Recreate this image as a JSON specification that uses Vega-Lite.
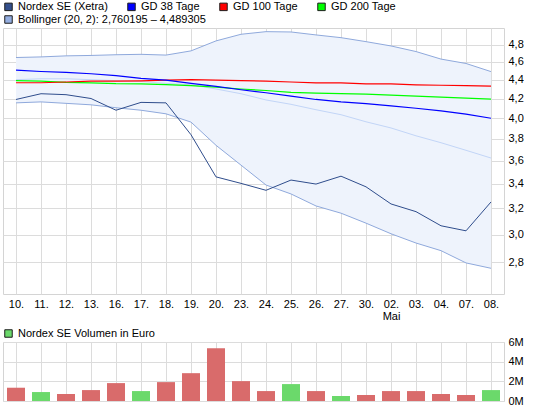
{
  "$schema": "https://vega.github.io/schema/vega-lite/v6.json",
  "padding": {"left": 2, "top": 0, "right": 0, "bottom": 0},
  "datasets": {
    "kurs": [
      {"d": "10.", "price": 4.19, "gd38": 4.505, "gd100": 4.367, "gd200": 4.39, "bu": 4.648, "bm": 4.4, "bl": 4.155, "vol": 1.35, "dir": "down"},
      {"d": "11.", "price": 4.25, "gd38": 4.49, "gd100": 4.367, "gd200": 4.385, "bu": 4.655, "bm": 4.41, "bl": 4.165, "vol": 0.91, "dir": "up"},
      {"d": "12.", "price": 4.24, "gd38": 4.48, "gd100": 4.375, "gd200": 4.37, "bu": 4.667, "bm": 4.41, "bl": 4.15, "vol": 0.71, "dir": "down"},
      {"d": "13.", "price": 4.2, "gd38": 4.465, "gd100": 4.385, "gd200": 4.365, "bu": 4.672, "bm": 4.4, "bl": 4.135, "vol": 1.11, "dir": "down"},
      {"d": "16.", "price": 4.08, "gd38": 4.445, "gd100": 4.385, "gd200": 4.357, "bu": 4.68, "bm": 4.39, "bl": 4.105, "vol": 1.82, "dir": "down"},
      {"d": "17.", "price": 4.16, "gd38": 4.415, "gd100": 4.388, "gd200": 4.355, "bu": 4.685, "bm": 4.38, "bl": 4.08, "vol": 1.01, "dir": "up"},
      {"d": "18.", "price": 4.155, "gd38": 4.395, "gd100": 4.395, "gd200": 4.346, "bu": 4.676, "bm": 4.36, "bl": 4.044, "vol": 1.92, "dir": "down"},
      {"d": "19.", "price": 3.84, "gd38": 4.36, "gd100": 4.4, "gd200": 4.335, "bu": 4.725, "bm": 4.345, "bl": 3.962, "vol": 2.83, "dir": "down"},
      {"d": "20.", "price": 3.46, "gd38": 4.327, "gd100": 4.395, "gd200": 4.32, "bu": 4.843, "bm": 4.3, "bl": 3.741, "vol": 5.36, "dir": "down"},
      {"d": "23.", "price": 3.405, "gd38": 4.292, "gd100": 4.39, "gd200": 4.3, "bu": 4.923, "bm": 4.25, "bl": 3.562, "vol": 2.02, "dir": "down"},
      {"d": "24.", "price": 3.347, "gd38": 4.26, "gd100": 4.385, "gd200": 4.284, "bu": 4.955, "bm": 4.185, "bl": 3.391, "vol": 1.01, "dir": "down"},
      {"d": "25.", "price": 3.433, "gd38": 4.225, "gd100": 4.375, "gd200": 4.265, "bu": 4.951, "bm": 4.14, "bl": 3.317, "vol": 1.72, "dir": "up"},
      {"d": "26.", "price": 3.399, "gd38": 4.19, "gd100": 4.365, "gd200": 4.257, "bu": 4.915, "bm": 4.085, "bl": 3.22, "vol": 1.01, "dir": "down"},
      {"d": "27.", "price": 3.466, "gd38": 4.165, "gd100": 4.365, "gd200": 4.25, "bu": 4.882, "bm": 4.035, "bl": 3.163, "vol": 0.51, "dir": "up"},
      {"d": "30.", "price": 3.376, "gd38": 4.147, "gd100": 4.355, "gd200": 4.245, "bu": 4.834, "bm": 3.965, "bl": 3.086, "vol": 0.61, "dir": "down"},
      {"d": "02.", "price": 3.236, "gd38": 4.125, "gd100": 4.355, "gd200": 4.235, "bu": 4.783, "bm": 3.905, "bl": 3.006, "vol": 1.01, "dir": "down"},
      {"d": "03.", "price": 3.175, "gd38": 4.1, "gd100": 4.345, "gd200": 4.225, "bu": 4.717, "bm": 3.83, "bl": 2.938, "vol": 1.01, "dir": "down"},
      {"d": "04.", "price": 3.066, "gd38": 4.073, "gd100": 4.34, "gd200": 4.215, "bu": 4.63, "bm": 3.765, "bl": 2.883, "vol": 0.71, "dir": "down"},
      {"d": "07.", "price": 3.028, "gd38": 4.04, "gd100": 4.335, "gd200": 4.205, "bu": 4.58, "bm": 3.695, "bl": 2.797, "vol": 0.61, "dir": "down"},
      {"d": "08.", "price": 3.252, "gd38": 4.0, "gd100": 4.33, "gd200": 4.194, "bu": 4.489, "bm": 3.625, "bl": 2.76, "vol": 1.11, "dir": "up"}
    ]
  },
  "spacing": 5,
  "resolve": {
    "scale": {"color": "independent", "fill": "independent"},
    "legend": {"color": "independent", "fill": "independent"}
  },
  "vconcat": [
    {
      "width": 501,
      "height": 266,
      "data": {"name": "kurs"},
      "encoding": {
        "x": {
          "field": "d",
          "type": "ordinal",
          "sort": null,
          "scale": {"type": "point", "padding": 0.52},
          "axis": {
            "title": null,
            "labelAngle": 0,
            "ticks": false,
            "domain": false,
            "grid": true,
            "labelPadding": 4,
            "labelLineHeight": 12,
            "labelExpr": "datum.value == '02.' ? ['02.', 'Mai'] : datum.value"
          }
        }
      },
      "layer": [
        {
          "mark": {"type": "area", "color": "#eef3fc"},
          "encoding": {
            "y": {
              "field": "bl",
              "type": "quantitative",
              "title": null,
              "scale": {"type": "log", "domain": [2.59, 5.0], "nice": false, "zero": false},
              "axis": {
                "orient": "right",
                "values": [2.8, 3.0, 3.2, 3.4, 3.6, 3.8, 4.0, 4.2, 4.4, 4.6, 4.8],
                "labelExpr": "replace(format(datum.value, '.1f'), '.', ',')",
                "ticks": false,
                "domain": false,
                "labelPadding": 4,
                "grid": true
              }
            },
            "y2": {"field": "bu"}
          }
        },
        {"mark": {"type": "line", "color": "#8fa9dc", "strokeWidth": 1}, "encoding": {"y": {"field": "bl", "type": "quantitative", "title": null}}},
        {"mark": {"type": "line", "color": "#8fa9dc", "strokeWidth": 1}, "encoding": {"y": {"field": "bu", "type": "quantitative", "title": null}}},
        {"mark": {"type": "line", "color": "#c2d5f7", "strokeWidth": 1}, "encoding": {"y": {"field": "bm", "type": "quantitative", "title": null}}},
        {"mark": {"type": "line", "color": "#00ff00", "strokeWidth": 1.2}, "encoding": {"y": {"field": "gd200", "type": "quantitative", "title": null}}},
        {"mark": {"type": "line", "color": "#ff0000", "strokeWidth": 1.2}, "encoding": {"y": {"field": "gd100", "type": "quantitative", "title": null}}},
        {"mark": {"type": "line", "color": "#0000ff", "strokeWidth": 1.2}, "encoding": {"y": {"field": "gd38", "type": "quantitative", "title": null}}},
        {"mark": {"type": "line", "color": "#2f4d8c", "strokeWidth": 1}, "encoding": {"y": {"field": "price", "type": "quantitative", "title": null}}},
        {
          "transform": [{"filter": "false"}],
          "mark": {"type": "square", "stroke": "#1e1e1e", "strokeWidth": 1, "opacity": 1},
          "encoding": {
            "color": {
              "field": "serie",
              "type": "nominal",
              "scale": {
                "domain": ["Nordex SE (Xetra)", "GD 38 Tage", "GD 100 Tage", "GD 200 Tage"],
                "range": ["#34508c", "#0000ff", "#ff0000", "#00ff00"]
              },
              "legend": {
                "title": null,
                "orient": "none",
                "legendX": 0,
                "legendY": -27,
                "direction": "horizontal",
                "columnPadding": 17,
                "symbolType": "square",
                "symbolSize": 56,
                "symbolStrokeColor": "#1e1e1e",
                "symbolStrokeWidth": 1,
                "symbolOpacity": 1,
                "labelOffset": 4
              }
            }
          }
        },
        {
          "transform": [{"filter": "false"}],
          "mark": {"type": "square", "stroke": "#1e1e1e", "strokeWidth": 1, "opacity": 1},
          "encoding": {
            "fill": {
              "datum": "Bollinger (20, 2): 2,760195 – 4,489305",
              "scale": {"domain": ["Bollinger (20, 2): 2,760195 – 4,489305"], "range": ["#94aee0"]},
              "legend": {
                "title": null,
                "orient": "none",
                "legendX": 0,
                "legendY": -14,
                "symbolType": "square",
                "symbolSize": 56,
                "symbolStrokeColor": "#1e1e1e",
                "symbolStrokeWidth": 1,
                "symbolOpacity": 1,
                "labelOffset": 4
              }
            }
          }
        }
      ]
    },
    {
      "width": 501,
      "height": 59,
      "data": {"name": "kurs"},
      "encoding": {
        "x": {
          "field": "d",
          "type": "ordinal",
          "sort": null,
          "scale": {"type": "point", "padding": 0.52},
          "axis": {"title": null, "labels": false, "ticks": false, "domain": false, "grid": true}
        }
      },
      "layer": [
        {
          "mark": {"type": "bar", "size": 18},
          "encoding": {
            "y": {
              "field": "vol",
              "type": "quantitative",
              "title": null,
              "scale": {"domain": [0, 6], "nice": false},
              "axis": {"orient": "right", "values": [0, 2, 4, 6], "labelExpr": "datum.value + 'M'", "ticks": false, "domain": false, "labelPadding": 4}
            },
            "fill": {
              "field": "dir",
              "type": "nominal",
              "scale": {"domain": ["down", "up"], "range": ["#d96b6b", "#6bd96b"]},
              "legend": null
            }
          }
        },
        {
          "transform": [{"filter": "false"}],
          "mark": {"type": "square", "stroke": "#1e1e1e", "strokeWidth": 1, "opacity": 1},
          "encoding": {
            "color": {
              "datum": "Nordex SE Volumen in Euro",
              "scale": {"domain": ["Nordex SE Volumen in Euro"], "range": ["#6bd96b"]},
              "legend": {
                "title": null,
                "orient": "none",
                "legendX": 0,
                "legendY": -14,
                "symbolType": "square",
                "symbolSize": 56,
                "symbolStrokeColor": "#1e1e1e",
                "symbolStrokeWidth": 1,
                "symbolOpacity": 1,
                "labelOffset": 4
              }
            }
          }
        }
      ]
    }
  ],
  "config": {
    "view": {"stroke": "#d4d4d4"},
    "axis": {"gridColor": "#dcdcdc", "labelFont": "Liberation Sans", "labelFontSize": 11, "labelColor": "#000000"},
    "legend": {"labelFont": "Liberation Sans", "labelFontSize": 11, "labelColor": "#000000", "labelLimit": 400}
  }
}
